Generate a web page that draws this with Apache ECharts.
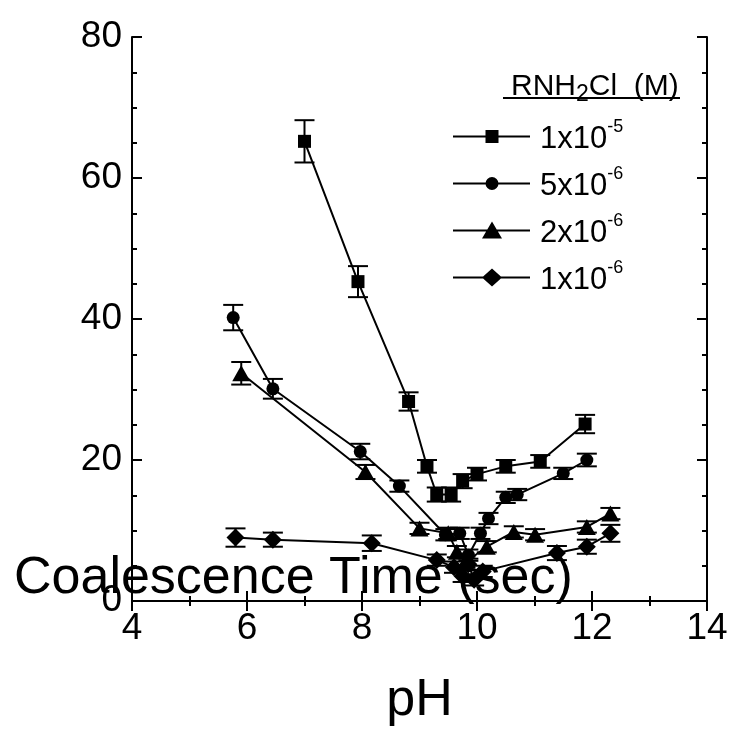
<!DOCTYPE html>
<html><head><meta charset="utf-8">
<script src="https://cdn.jsdelivr.net/npm/echarts@6/dist/echarts.min.js"></script>
<style>html,body{margin:0;padding:0;background:#fff}#c{width:733px;height:732px}</style>
</head><body><div id="c"></div>
<script>
// ---- data (pH, coalescence time, error) ----
const seriesNames = ['1x10-5', '5x10-6', '2x10-6', '1x10-6'];
const xTicks = [4, 6, 8, 10, 12, 14];
const yTicks = [0, 20, 40, 60, 80];
const conc1e5 = [
  [7.0, 65.2, 3.0], [7.93, 45.3, 2.2], [8.81, 28.3, 1.3], [9.13, 19.1, 0.9],
  [9.3, 15.1, 1.0], [9.55, 15.1, 1.0], [9.75, 17.0, 1.0], [10.0, 18.0, 0.9],
  [10.5, 19.1, 0.9], [11.1, 19.8, 0.9], [11.88, 25.1, 1.3]
];
const conc5e6 = [
  [5.76, 40.2, 1.8], [6.45, 30.1, 1.4], [7.97, 21.2, 1.1], [8.65, 16.3, 0.8],
  [9.45, 9.4, 0.8], [9.7, 9.6, 0.8], [9.85, 6.5, 0.8], [10.06, 9.6, 0.8],
  [10.2, 11.7, 0.8], [10.5, 14.7, 0.8], [10.7, 15.1, 0.8], [11.5, 18.1, 0.8],
  [11.91, 20.0, 0.9]
];
const conc2e6 = [
  [5.9, 32.3, 1.6], [8.06, 18.3, 1.0], [9.0, 10.3, 0.8], [9.5, 9.6, 0.8],
  [9.65, 7.0, 0.8], [9.8, 5.5, 0.8], [10.17, 7.7, 0.8], [10.64, 9.8, 0.8],
  [11.01, 9.4, 0.8], [11.91, 10.5, 0.8], [12.32, 12.4, 0.8]
];
const conc1e6 = [
  [5.8, 9.0, 1.3], [6.45, 8.7, 1.0], [8.17, 8.2, 1.1], [9.3, 5.8, 0.8],
  [9.6, 4.8, 0.8], [9.75, 3.5, 0.8], [9.85, 5.2, 0.8], [9.95, 3.0, 0.8],
  [10.1, 4.2, 0.8], [11.39, 6.8, 1.0], [11.91, 7.7, 1.0], [12.32, 9.6, 1.2]
];
// ------------------------------------------------
const FONT = 'Liberation Sans, Arial, sans-serif';
const allData = [conc1e5, conc5e6, conc2e6, conc1e6];
const symbols = ['rect', 'circle', 'triangle', 'diamond'];
const symbolSizes = [13, 13, [18, 16], [18, 18]];
const legendIcons = [
  'path://M0,0L0.01,0ZM77,20L76.99,20ZM0,9L77,9L77,11L0,11ZM32.5,3.5L45.5,3.5L45.5,16.5L32.5,16.5Z',
  'path://M0,0L0.01,0ZM77,20L76.99,20ZM0,9L77,9L77,11L0,11ZM45.5,10A6.5,6.5,0,1,1,32.5,10A6.5,6.5,0,1,1,45.5,10Z',
  'path://M0,0L0.01,0ZM77,20L76.99,20ZM0,9L77,9L77,11L0,11ZM39,1L49,18L29,18Z',
  'path://M0,0L0.01,0ZM77,20L76.99,20ZM0,9L77,9L77,11L0,11ZM39,1L49,10L39,19L29,10Z'
];

function errRender(params, api) {
  const x = api.value(0), y = api.value(1), e = api.value(2);
  const t = api.coord([x, y + e]), b = api.coord([x, y - e]);
  const hw = 10;
  const st = { stroke: '#000', lineWidth: 2 };
  return { type: 'group', children: [
    { type: 'line', shape: { x1: t[0], y1: t[1], x2: b[0], y2: b[1] }, style: st },
    { type: 'line', shape: { x1: t[0] - hw, y1: t[1], x2: t[0] + hw, y2: t[1] }, style: st },
    { type: 'line', shape: { x1: b[0] - hw, y1: b[1], x2: b[0] + hw, y2: b[1] }, style: st }
  ]};
}

const series = [];
allData.forEach((d, i) => {
  series.push({
    name: seriesNames[i], type: 'line', xAxisIndex: 0, yAxisIndex: 0,
    data: d.map(r => [r[0], r[1]]),
    symbol: symbols[i], symbolSize: symbolSizes[i], showAllSymbol: true,
    itemStyle: { color: '#000' }, lineStyle: { color: '#000', width: 2 },
    animation: false, z: 3
  });
  series.push({
    name: 'err' + i, type: 'custom', xAxisIndex: 0, yAxisIndex: 0,
    data: d, renderItem: errRender, encode: { x: 0, y: 1 },
    animation: false, z: 2, silent: true
  });
});

const axisCommon = {
  axisLine: { show: true, lineStyle: { color: '#000', width: 2 } },
  axisTick: { show: true, inside: true, length: 10, lineStyle: { color: '#000', width: 2 } },
  minorTick: { show: true, length: 5, lineStyle: { color: '#000', width: 2 } },
  splitLine: { show: false }
};

const chart = echarts.init(document.getElementById('c'), null, { renderer: 'canvas' });
chart.setOption({
  animation: false,
  backgroundColor: '#fff',
  grid: { left: 132, right: 26, top: 37, bottom: 120, containLabel: false },
  xAxis: [
    Object.assign({}, axisCommon, {
      type: 'value', min: xTicks[0], max: xTicks[xTicks.length - 1], interval: 2, position: 'bottom',
      minorTick: Object.assign({}, axisCommon.minorTick, { splitNumber: 2 }),
      axisLabel: { fontSize: 37, color: '#000', fontFamily: FONT, margin: 9 },
      name: 'pH', nameLocation: 'middle', nameGap: 74,
      nameTextStyle: { fontSize: 52, color: '#000', fontFamily: FONT }
    }),
    Object.assign({}, axisCommon, {
      type: 'value', min: xTicks[0], max: xTicks[xTicks.length - 1], interval: 2, position: 'top',
      minorTick: Object.assign({}, axisCommon.minorTick, { splitNumber: 2 }),
      axisLabel: { show: false }
    })
  ],
  yAxis: [
    Object.assign({}, axisCommon, {
      type: 'value', min: yTicks[0], max: yTicks[yTicks.length - 1], interval: 20, position: 'left',
      minorTick: Object.assign({}, axisCommon.minorTick, { splitNumber: 4 }),
      axisLabel: { fontSize: 37, color: '#000', fontFamily: FONT, margin: 10 }
    }),
    Object.assign({}, axisCommon, {
      type: 'value', min: yTicks[0], max: yTicks[yTicks.length - 1], interval: 20, position: 'right',
      minorTick: Object.assign({}, axisCommon.minorTick, { splitNumber: 4 }),
      axisLabel: { show: false }
    })
  ],
  legend: {
    data: seriesNames.map((n, i) => ({ name: n, icon: legendIcons[i] })),
    orient: 'vertical', left: 453, top: 118, padding: 0, itemWidth: 77, itemHeight: 20, itemGap: 10,
    selectedMode: false,
    itemStyle: { color: '#000' },
    formatter: function (name) {
      const k = name.indexOf('-');
      return '{b|' + name.slice(0, k) + '}{s|' + name.slice(k) + '}';
    },
    textStyle: {
      color: '#000', fontFamily: FONT, fontSize: 31, padding: [0, 0, 0, 5],
      rich: {
        b: { fontSize: 31, fontFamily: FONT, color: '#000', verticalAlign: 'bottom', padding: [6, 0, 0, 0] },
        s: { fontSize: 18, fontFamily: FONT, color: '#000', verticalAlign: 'top' }
      }
    }
  },
  graphic: [
    { type: 'text', left: 14, top: 553, z: 10,
      style: { text: 'Coalescence Time (sec)', fontSize: 52, fontFamily: FONT, fill: '#000' } },
    { type: 'text', left: 511, top: 72, z: 10,
      style: { text: '{a|RNH}{s|2}{a|Cl  (M)}', fontFamily: FONT, fill: '#000',
        rich: { a: { fontSize: 30, fontFamily: FONT, verticalAlign: 'top' },
                s: { fontSize: 23, fontFamily: FONT, verticalAlign: 'bottom', padding: [11, 0, 0, 0] } } } },
    { type: 'line', z: 10, shape: { x1: 503, y1: 98, x2: 680, y2: 98 }, style: { stroke: '#000', lineWidth: 2 } }
  ],
  series: series
});
</script>
</body></html>
